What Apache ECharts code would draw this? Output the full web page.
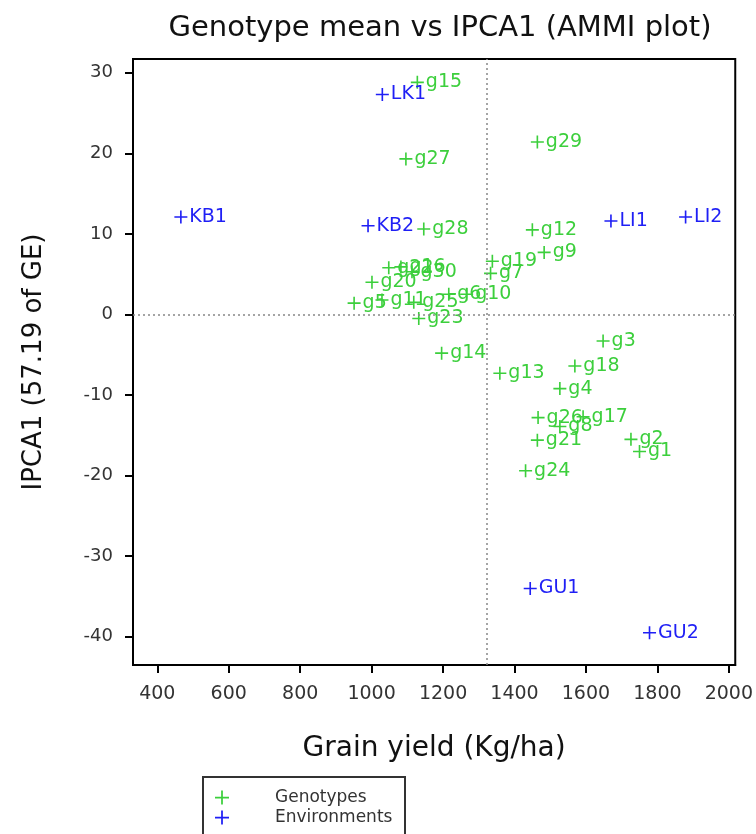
<!DOCTYPE html>
<html>
<head>
<meta charset="utf-8">
<script src="https://cdn.jsdelivr.net/npm/echarts@6/dist/echarts.min.js"></script>
<style>
  html, body { margin: 0; padding: 0; background: #fff; }
  #main { width: 756px; height: 834px; }
</style>
</head>
<body>
<div id="main"></div>
<script>
// genotype means and IPCA1 scores
var genoNames = ['g1','g2','g3','g4','g5','g6','g7','g8','g9','g10','g11','g12','g13','g14','g15',
                 'g16','g17','g18','g19','g20','g21','g22','g23','g24','g25','g26','g27','g28','g29','g30'];
var genoYield = [1750,1726,1648,1527,951,1216,1333,1527,1483,1266,1029,1450,1359,1196,1128,
                 1082,1592,1569,1338,1001,1464,1048,1132,1431,1118,1466,1096,1146,1464,1113];
var genoIpca  = [-17.0,-15.5,-3.3,-9.2,1.4,2.5,5.1,-13.9,7.7,2.5,1.8,10.5,-7.3,-4.8,28.8,
                 5.9,-12.7,-6.4,6.6,4.0,-15.6,5.8,-0.5,-19.4,1.5,-12.8,19.3,10.6,21.4,5.3];

// environments
var envNames = ['GU1','GU2','KB1','KB2','LI1','LI2','LK1'];
var envYield = [1444,1778,466,990,1670,1879,1030];
var envIpca  = [-34.0,-39.5,12.1,11.0,11.6,12.1,27.3];

// axis ticks + reference lines
var xTicks = [400,600,800,1000,1200,1400,1600,1800,2000];
var yTicks = [-40,-30,-20,-10,0,10,20,30];
var meanYield = 1322;

var plusIcon = 'path://M0,5.25h12v1.5h-12z M5.25,0h1.5v12h-1.5z';
var green = '#3ccf3c';
var blue = '#1f1ff5';
var font = 'DejaVu Sans';

function toPoints(names, xs, ys) {
    return names.map(function (n, i) {
        return { name: n, value: [xs[i], ys[i]] };
    });
}

function legendAt(top, name, color) {
    return {
        left: 215, top: top,
        padding: 0,
        itemWidth: 14, itemHeight: 14,
        data: [{ name: name, icon: plusIcon, itemStyle: { color: color } }],
        textStyle: { fontFamily: font, fontSize: 17, color: '#333', padding: [0, 0, 0, 41] }
    };
}

function seriesFor(name, names, xs, ys, color) {
    return {
        name: name,
        type: 'scatter',
        symbol: plusIcon,
        symbolSize: 13,
        itemStyle: { color: color, opacity: 1 },
        label: {
            show: true, position: 'right', distance: 2,
            formatter: '{b}', fontFamily: font, fontSize: 19, color: color
        },
        data: toPoints(names, xs, ys)
    };
}

var geno = seriesFor('Genotypes', genoNames, genoYield, genoIpca, green);
geno.markLine = {
    silent: true,
    symbol: 'none',
    label: { show: false },
    lineStyle: { color: '#888', type: [2, 3], width: 1.5 },
    data: [{ xAxis: meanYield }, { yAxis: 0 }]
};

var myChart = echarts.init(document.getElementById('main'));
myChart.setOption({
    animation: false,
    textStyle: { fontFamily: font },
    title: {
        text: 'Genotype mean vs IPCA1 (AMMI plot)',
        left: 435,
        textAlign: 'center',
        top: 9,
        textStyle: { fontFamily: font, fontSize: 29, fontWeight: 'normal', color: '#111' }
    },
    grid: {
        left: 133, right: 18, top: 59, bottom: 169,
        show: true, borderColor: '#000', borderWidth: 2
    },
    graphic: [{
        type: 'rect',
        shape: { x: 203, y: 777, width: 202, height: 80 },
        style: { fill: '#fff', stroke: '#333', lineWidth: 2 }
    }],
    legend: [legendAt(789, 'Genotypes', green), legendAt(809, 'Environments', blue)],
    xAxis: {
        type: 'value',
        min: 332, max: 2018,
        name: 'Grain yield (Kg/ha)',
        nameLocation: 'middle',
        nameGap: 70,
        nameTextStyle: { fontFamily: font, fontSize: 28, color: '#111' },
        axisLine: { show: true, onZero: false, lineStyle: { color: '#000', width: 2 } },
        axisTick: { show: true, length: 8, lineStyle: { color: '#000', width: 2 }, customValues: xTicks },
        axisLabel: {
            fontSize: 19, color: '#333', margin: 20, customValues: xTicks,
            formatter: function (v) { return String(v); }
        },
        splitLine: { show: false }
    },
    yAxis: {
        type: 'value',
        min: -43.5, max: 31.7,
        name: 'IPCA1 (57.19 of GE)',
        nameLocation: 'middle',
        nameGap: 86,
        nameTextStyle: { fontFamily: font, fontSize: 26, color: '#111' },
        axisLine: { show: true, onZero: false, lineStyle: { color: '#000', width: 2 } },
        axisTick: { show: true, length: 8, lineStyle: { color: '#000', width: 2 }, customValues: yTicks },
        axisLabel: {
            fontSize: 18, color: '#333', margin: 20, customValues: yTicks,
            formatter: function (v) { return String(v); }
        },
        splitLine: { show: false }
    },
    series: [geno, seriesFor('Environments', envNames, envYield, envIpca, blue)]
});
</script>
</body>
</html>
